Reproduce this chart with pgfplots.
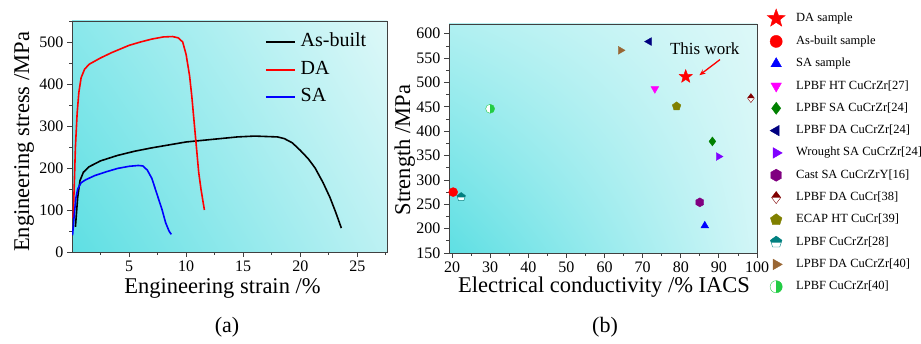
\documentclass[border=0pt]{standalone}
\usepackage{fontspec}
\setmainfont{Liberation Serif}
\usepackage{pgfplots}
\pgfplotsset{compat=1.18}
\usetikzlibrary{shadings,arrows.meta,plotmarks}

\definecolor{cyD}{HTML}{5EDFE3}
\definecolor{cyUL}{HTML}{8AE8EB}
\definecolor{cyL}{HTML}{DDF8F8}
\definecolor{cyLR}{HTML}{BDF1F3}
\definecolor{cyULb}{HTML}{B0F0F1}
\definecolor{cyLRb}{HTML}{D2F6F7}
\definecolor{mag}{HTML}{FF00FF}
\definecolor{dgreen}{HTML}{008000}
\definecolor{navy}{HTML}{000080}
\definecolor{violetm}{HTML}{8000FF}
\definecolor{purplem}{HTML}{800080}
\definecolor{darkred}{HTML}{800000}
\definecolor{olivem}{HTML}{808000}
\definecolor{tealm}{HTML}{008080}
\definecolor{brownm}{HTML}{996633}
\definecolor{lgreen}{HTML}{22CC44}

\pgfdeclareplotmark{fstar}{%
  \pgfpathmoveto{\pgfqpointpolar{90}{\pgfplotmarksize}}%
  \pgfpathlineto{\pgfqpointpolar{126}{0.42\pgfplotmarksize}}%
  \pgfpathlineto{\pgfqpointpolar{162}{\pgfplotmarksize}}%
  \pgfpathlineto{\pgfqpointpolar{198}{0.42\pgfplotmarksize}}%
  \pgfpathlineto{\pgfqpointpolar{234}{\pgfplotmarksize}}%
  \pgfpathlineto{\pgfqpointpolar{270}{0.42\pgfplotmarksize}}%
  \pgfpathlineto{\pgfqpointpolar{306}{\pgfplotmarksize}}%
  \pgfpathlineto{\pgfqpointpolar{342}{0.42\pgfplotmarksize}}%
  \pgfpathlineto{\pgfqpointpolar{18}{\pgfplotmarksize}}%
  \pgfpathlineto{\pgfqpointpolar{54}{0.42\pgfplotmarksize}}%
  \pgfpathclose\pgfusepathqfillstroke}
\pgfdeclareplotmark{hexa}{%
  \pgfpathmoveto{\pgfqpointpolar{90}{\pgfplotmarksize}}%
  \pgfpathlineto{\pgfqpointpolar{150}{\pgfplotmarksize}}%
  \pgfpathlineto{\pgfqpointpolar{210}{\pgfplotmarksize}}%
  \pgfpathlineto{\pgfqpointpolar{270}{\pgfplotmarksize}}%
  \pgfpathlineto{\pgfqpointpolar{330}{\pgfplotmarksize}}%
  \pgfpathlineto{\pgfqpointpolar{30}{\pgfplotmarksize}}%
  \pgfpathclose\pgfusepathqfillstroke}
\pgfdeclareplotmark{halfdiamond}{%
  \begin{pgfscope}\pgfsetfillcolor{white}%
  \pgfpathmoveto{\pgfqpoint{0pt}{\pgfplotmarksize}}%
  \pgfpathlineto{\pgfqpoint{0.75\pgfplotmarksize}{0pt}}%
  \pgfpathlineto{\pgfqpoint{0pt}{-\pgfplotmarksize}}%
  \pgfpathlineto{\pgfqpoint{-0.75\pgfplotmarksize}{0pt}}%
  \pgfpathclose\pgfusepathqfill\end{pgfscope}%
  \pgfpathmoveto{\pgfqpoint{0pt}{\pgfplotmarksize}}%
  \pgfpathlineto{\pgfqpoint{0.75\pgfplotmarksize}{0pt}}%
  \pgfpathlineto{\pgfqpoint{-0.75\pgfplotmarksize}{0pt}}%
  \pgfpathclose\pgfusepathqfill
  \pgfpathmoveto{\pgfqpoint{0pt}{\pgfplotmarksize}}%
  \pgfpathlineto{\pgfqpoint{0.75\pgfplotmarksize}{0pt}}%
  \pgfpathlineto{\pgfqpoint{0pt}{-\pgfplotmarksize}}%
  \pgfpathlineto{\pgfqpoint{-0.75\pgfplotmarksize}{0pt}}%
  \pgfpathclose\pgfusepathqstroke}
\pgfdeclareplotmark{halfpent}{%
  \begin{pgfscope}\pgfsetfillcolor{white}%
  \pgfpathmoveto{\pgfqpointpolar{90}{\pgfplotmarksize}}%
  \pgfpathlineto{\pgfqpointpolar{162}{\pgfplotmarksize}}%
  \pgfpathlineto{\pgfqpointpolar{234}{\pgfplotmarksize}}%
  \pgfpathlineto{\pgfqpointpolar{306}{\pgfplotmarksize}}%
  \pgfpathlineto{\pgfqpointpolar{18}{\pgfplotmarksize}}%
  \pgfpathclose\pgfusepathqfill\end{pgfscope}%
  \pgfpathmoveto{\pgfqpointpolar{90}{\pgfplotmarksize}}%
  \pgfpathlineto{\pgfqpointpolar{162}{\pgfplotmarksize}}%
  \pgfpathlineto{\pgfqpoint{-0.818\pgfplotmarksize}{-0.1\pgfplotmarksize}}%
  \pgfpathlineto{\pgfqpoint{0.818\pgfplotmarksize}{-0.1\pgfplotmarksize}}%
  \pgfpathlineto{\pgfqpointpolar{18}{\pgfplotmarksize}}%
  \pgfpathclose\pgfusepathqfill
  \pgfpathmoveto{\pgfqpointpolar{90}{\pgfplotmarksize}}%
  \pgfpathlineto{\pgfqpointpolar{162}{\pgfplotmarksize}}%
  \pgfpathlineto{\pgfqpointpolar{234}{\pgfplotmarksize}}%
  \pgfpathlineto{\pgfqpointpolar{306}{\pgfplotmarksize}}%
  \pgfpathlineto{\pgfqpointpolar{18}{\pgfplotmarksize}}%
  \pgfpathclose\pgfusepathqstroke}
\pgfdeclareplotmark{halfcircle}{%
  \begin{pgfscope}\pgfsetfillcolor{white}%
  \pgfpathcircle{\pgfpointorigin}{\pgfplotmarksize}\pgfusepathqfill\end{pgfscope}%
  \pgfpathmoveto{\pgfqpoint{0pt}{\pgfplotmarksize}}%
  \pgfpatharc{90}{-90}{\pgfplotmarksize}%
  \pgfpathclose\pgfusepathqfill
  \pgfpathcircle{\pgfpointorigin}{\pgfplotmarksize}\pgfusepathqstroke}

\pgfplotsset{
  pt/.style={only marks, mark size=4.5pt,
    legend image code/.code={\path[draw=none,fill=none] (-8pt,-4pt) rectangle (8pt,4pt);
      \draw[##1,/tikz/every mark/.append style={scale=1.35}] plot coordinates {(0pt,0pt)};}},
}

\begin{document}
\begin{tikzpicture}[x=1pt,y=1pt]
\path[use as bounding box] (0,0) rectangle (921,343);

% ---------------- panel (a) ----------------
\begin{axis}[at={(72pt,91pt)}, anchor=south west, scale only axis,
  width=315pt, height=231pt,
  xmin=0, xmax=27.6, ymin=0, ymax=550,
  xtick={5,10,15,20,25}, minor xtick={2.5,7.5,12.5,17.5,22.5,27.5},
  ytick={0,100,200,300,400,500}, minor ytick={50,150,250,350,450,550},
  tick pos=left, tick align=outside,
  major tick length=5pt, minor tick length=3pt,
  axis line style={black!75, line width=0.8pt},
  every tick/.style={black!75, line width=0.8pt},
  tick label style={font=\fontsize{16}{16}\selectfont},
  /pgf/number format/assume math mode=true,
  axis background/.style={shading=bilinear interpolation,
     lower left=cyD, upper left=cyUL, upper right=cyL, lower right=cyLR},
  legend image code/.code={\draw[#1] (0pt,0pt) -- (29pt,0pt);},
  legend style={at={(0.603,0.963)}, anchor=north west, draw=none, fill=none,
     font=\fontsize{20}{20}\selectfont, row sep=6.5pt, column sep=4pt,
     nodes={inner sep=1pt, text height=14pt, text depth=5pt}},
  legend cell align=left,
]
\addplot[black, line width=1.6pt] coordinates {
(0.3,60) (0.5,130) (0.7,170) (1.0,190) (1.5,203) (2.5,217) (4,230) (5.5,240)
(7,248) (8.5,255) (10,262) (11.5,266) (13,270) (14.5,274) (16,276) (17,275)
(18,274) (18.6,270) (19.3,260) (20,242) (20.7,222) (21.3,200) (22,165)
(22.6,130) (23.1,95) (23.6,57)};
\addlegendentry{As-built}
\addplot[red, line width=1.6pt] coordinates {
(0.1,80) (0.2,160) (0.3,250) (0.45,330) (0.6,380) (0.8,415) (1.1,435) (1.5,447)
(2.5,462) (3.5,475) (5,492) (6,500) (7,507) (8,512) (8.8,513) (9.3,510)
(9.7,500) (10.0,470) (10.3,420) (10.5,370) (10.7,310) (10.9,250) (11.1,190)
(11.3,150) (11.6,100)};
\addlegendentry{DA}
\addplot[blue, line width=1.6pt] coordinates {
(0.05,40) (0.2,90) (0.35,130) (0.5,150) (0.8,165) (1.2,172) (2,182) (3,191)
(4,199) (5,204) (5.8,206) (6.2,205) (6.6,195) (7,175) (7.3,150) (7.6,125)
(7.9,100) (8.2,70) (8.5,50) (8.7,42)};
\addlegendentry{SA}
\end{axis}

% ---------------- panel (b) ----------------
\begin{axis}[at={(449pt,90pt)}, anchor=south west, scale only axis,
  width=308pt, height=229pt,
  xmin=19.2, xmax=100, ymin=150, ymax=620,
  xtick={20,30,...,100}, minor x tick num=1,
  ytick={150,200,...,600}, minor y tick num=1,
  tick pos=left, tick align=outside,
  major tick length=5pt, minor tick length=3pt,
  axis line style={black!75, line width=0.8pt},
  every tick/.style={black!75, line width=0.8pt},
  tick label style={font=\fontsize{16}{16}\selectfont},
  /pgf/number format/assume math mode=true,
  axis background/.style={shading=bilinear interpolation,
     lower left=cyD, upper left=cyULb, upper right=cyL, lower right=cyLRb},
  clip=false,
  legend style={at={(1.0227,1.075)}, anchor=north west, draw=none, fill=none,
     font=\fontsize{12.5}{13}\selectfont, row sep=8.3pt, column sep=10pt,
     nodes={inner sep=1pt, text height=9pt, text depth=3pt}},
  legend cell align=left,
]
\addplot[pt, red, mark=fstar, mark size=7pt, mark options={fill=red, draw=red}] coordinates {(81.3,512)};
\addlegendentry{DA sample}
\addplot[pt, red, mark=*, mark options={fill=red, draw=red}] coordinates {(20.3,275)};
\addlegendentry{As-built sample}
\addplot[pt, blue, mark=triangle*, mark options={fill=blue, draw=blue}] coordinates {(86.3,206)};
\addlegendentry{SA sample}
\addplot[pt, mag, mark=triangle*, mark options={fill=mag, draw=mag, rotate=180}] coordinates {(73.2,487)};
\addlegendentry{LPBF HT CuCrZr[27]}
\addplot[pt, dgreen, mark=diamond*, mark options={fill=dgreen, draw=dgreen}] coordinates {(88.3,379)};
\addlegendentry{LPBF SA CuCrZr[24]}
\addplot[pt, navy, mark=triangle*, mark options={fill=navy, draw=navy, rotate=90}] coordinates {(71.7,584)};
\addlegendentry{LPBF DA CuCrZr[24]}
\addplot[pt, violetm, mark=triangle*, mark options={fill=violetm, draw=violetm, rotate=-90}] coordinates {(89.9,348)};
\addlegendentry{Wrought SA CuCrZr[24]}
\addplot[pt, purplem, mark=hexa, mark options={fill=purplem, draw=purplem}] coordinates {(85,254)};
\addlegendentry{Cast SA CuCrZrY[16]}
\addplot[pt, darkred, mark=halfdiamond, mark options={fill=darkred, draw=darkred}] coordinates {(98.4,468)};
\addlegendentry{LPBF DA CuCr[38]}
\addplot[pt, olivem, mark=pentagon*, mark options={fill=olivem, draw=olivem}] coordinates {(78.9,451)};
\addlegendentry{ECAP HT CuCr[39]}
\addplot[pt, tealm, mark=halfpent, mark options={fill=tealm, draw=tealm}] coordinates {(22.4,265)};
\addlegendentry{LPBF CuCrZr[28]}
\addplot[pt, brownm, mark=triangle*, mark options={fill=brownm, draw=brownm, rotate=-90}] coordinates {(64.2,566)};
\addlegendentry{LPBF DA CuCrZr[40]}
\addplot[pt, lgreen, mark=halfcircle, mark options={fill=lgreen, draw=lgreen}] coordinates {(30,446)};
\addlegendentry{LPBF CuCrZr[40]}
\draw[red, line width=1.3pt, -{Stealth[length=6pt,width=5pt]}] (axis cs:90.3,547) -- (axis cs:84.9,515);
\node[font=\fontsize{17}{17}\selectfont] at (axis cs:86.3,569) {This work};
\end{axis}

% ---------------- labels ----------------
\node[anchor=base, font=\fontsize{22.5}{22.5}\selectfont] at (222.5,50) {Engineering strain /\%};
\node[anchor=base, rotate=90, font=\fontsize{22.5}{22.5}\selectfont] at (29,201) {Engineering stress /MPa};
\node[anchor=base, font=\fontsize{22.5}{22.5}\selectfont] at (604,51) {Electrical conductivity /\% IACS};
\node[anchor=base, rotate=90, font=\fontsize{22.5}{22.5}\selectfont] at (410,193) {Strength /MPa};
\node[anchor=base, font=\fontsize{22}{22}\selectfont] at (227,11) {(a)};
\node[anchor=base, font=\fontsize{22}{22}\selectfont] at (605,11) {(b)};
\end{tikzpicture}
\end{document}
